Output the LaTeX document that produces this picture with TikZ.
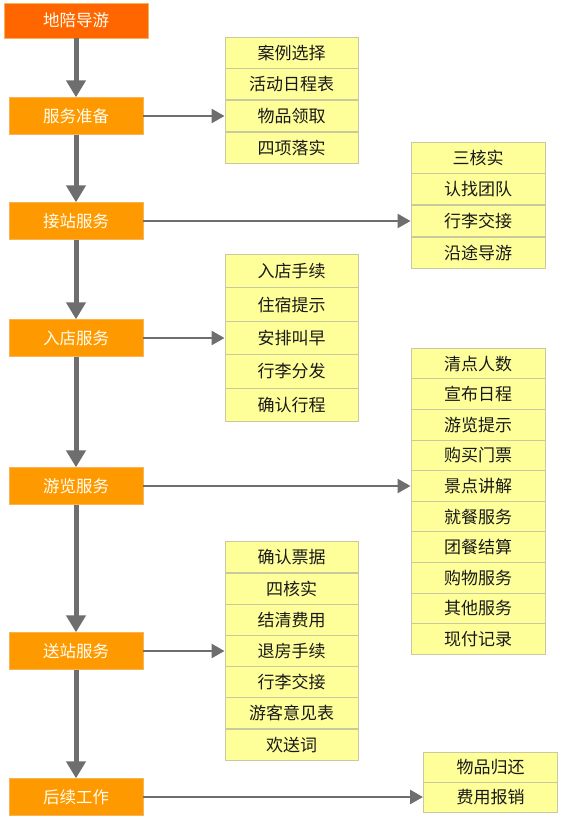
\documentclass[tikz,border=0pt]{standalone}
\usepackage{fontspec}
\newfontfamily\cjk{Noto Sans CJK SC}
\usepackage{tikz}
\usetikzlibrary{arrows.meta}
\definecolor{leadred}{HTML}{FF6600}
\definecolor{stageorange}{HTML}{FF9900}
\definecolor{stageedge}{HTML}{F7B35A}
\definecolor{itemyellow}{HTML}{FFFF99}
\definecolor{itemedge}{HTML}{C9C9A0}
\definecolor{flowgray}{HTML}{6E6E6E}
\tikzstyle{stage}     = [rectangle, minimum width=134pt, minimum height=37pt, inner sep=0pt, text centered, draw=stageedge, fill=stageorange, text=white!95!yellow, font=\cjk\fontsize{16.5}{16.5}\selectfont]
\tikzstyle{listitem}  = [rectangle, minimum width=133pt, minimum height=31pt, inner sep=0pt, text centered, draw=itemedge, line width=1pt, fill=itemyellow, text=black!90, font=\cjk\fontsize{17}{17}\selectfont]
\tikzstyle{flowdown}  = [line width=5pt, draw=flowgray, -{Triangle[length=17pt,width=19pt]}]
\tikzstyle{flowright} = [line width=2.6pt, draw=flowgray, -{Triangle[length=13pt,width=14pt]}]
\begin{document}
\begin{tikzpicture}[x=1pt, y=1pt]
      \fill [white] (0,0) rectangle (563,-821);
      \useasboundingbox (0,0) rectangle (563,-821);

      \node (lead)    [stage, fill=leadred, minimum width=144pt, minimum height=35pt] at (76,-20.5) {地陪导游};
      \node (prep)    [stage] at (76,-116) {服务准备};
      \node (pickup)  [stage] at (76,-221) {接站服务};
      \node (checkin) [stage] at (76,-338) {入店服务};
      \node (tour)    [stage] at (76,-486) {游览服务};
      \node (sendoff) [stage] at (76,-651) {送站服务};
      \node (after)   [stage] at (76,-797) {后续工作};

      \begin{scope}[node distance=31.7pt]
      \node (prepC) [listitem] at (291.5,-116) {物品领取};
      \node (prepB) [listitem, above of=prepC] {活动日程表};
      \node (prepA) [listitem, above of=prepB] {案例选择};
      \node (prepD) [listitem, below of=prepC] {四项落实};

      \node (pickupC) [listitem, minimum width=134pt] at (478,-221) {行李交接};
      \node (pickupB) [listitem, minimum width=134pt, above of=pickupC] {认找团队};
      \node (pickupA) [listitem, minimum width=134pt, above of=pickupB] {三核实};
      \node (pickupD) [listitem, minimum width=134pt, below of=pickupC] {沿途导游};
      \end{scope}

      \begin{scope}[node distance=33.5pt]
      \node (checkinC) [listitem, minimum height=33.5pt] at (291.5,-338) {安排叫早};
      \node (checkinB) [listitem, minimum height=33.5pt, above of=checkinC] {住宿提示};
      \node (checkinA) [listitem, minimum height=33.5pt, above of=checkinB] {入店手续};
      \node (checkinD) [listitem, minimum height=33.5pt, below of=checkinC] {行李分发};
      \node (checkinE) [listitem, minimum height=33.5pt, below of=checkinD] {确认行程};
      \end{scope}

      \begin{scope}[node distance=30.6pt]
      \node (tourE) [listitem, minimum width=134pt, minimum height=30.6pt] at (478,-486) {景点讲解};
      \node (tourD) [listitem, minimum width=134pt, minimum height=30.6pt, above of=tourE] {购买门票};
      \node (tourC) [listitem, minimum width=134pt, minimum height=30.6pt, above of=tourD] {游览提示};
      \node (tourB) [listitem, minimum width=134pt, minimum height=30.6pt, above of=tourC] {宣布日程};
      \node (tourA) [listitem, minimum width=134pt, minimum height=30.6pt, above of=tourB] {清点人数};
      \node (tourF) [listitem, minimum width=134pt, minimum height=30.6pt, below of=tourE] {就餐服务};
      \node (tourG) [listitem, minimum width=134pt, minimum height=30.6pt, below of=tourF] {团餐结算};
      \node (tourH) [listitem, minimum width=134pt, minimum height=30.6pt, below of=tourG] {购物服务};
      \node (tourI) [listitem, minimum width=134pt, minimum height=30.6pt, below of=tourH] {其他服务};
      \node (tourJ) [listitem, minimum width=134pt, minimum height=30.6pt, below of=tourI] {现付记录};
      \end{scope}

      \begin{scope}[node distance=31.2pt]
      \node (sendoffD) [listitem] at (291.5,-651) {退房手续};
      \node (sendoffC) [listitem, above of=sendoffD] {结清费用};
      \node (sendoffB) [listitem, above of=sendoffC] {四核实};
      \node (sendoffA) [listitem, above of=sendoffB] {确认票据};
      \node (sendoffE) [listitem, below of=sendoffD] {行李交接};
      \node (sendoffF) [listitem, below of=sendoffE] {游客意见表};
      \node (sendoffG) [listitem, below of=sendoffF] {欢送词};
      \end{scope}

      \begin{scope}[node distance=30pt]
      \node (afterB) [listitem, minimum width=134pt, minimum height=30pt] at (490.5,-797) {费用报销};
      \node (afterA) [listitem, minimum width=134pt, minimum height=30pt, above of=afterB] {物品归还};
      \end{scope}

      \draw [flowdown] (lead) -- (prep);
      \draw [flowdown] (prep) -- (pickup);
      \draw [flowdown] (pickup) -- (checkin);
      \draw [flowdown] (checkin) -- (tour);
      \draw [flowdown] (tour) -- (sendoff);
      \draw [flowdown] (sendoff) -- (after);

      \draw [flowright] (prep) -- (prepC);
      \draw [flowright] (pickup) -- (pickupC);
      \draw [flowright] (checkin) -- (checkinC);
      \draw [flowright] (tour) -- (tourE);
      \draw [flowright] (sendoff) -- (sendoffD);
      \draw [flowright] (after) -- (afterB);

    \end{tikzpicture}
\end{document}
